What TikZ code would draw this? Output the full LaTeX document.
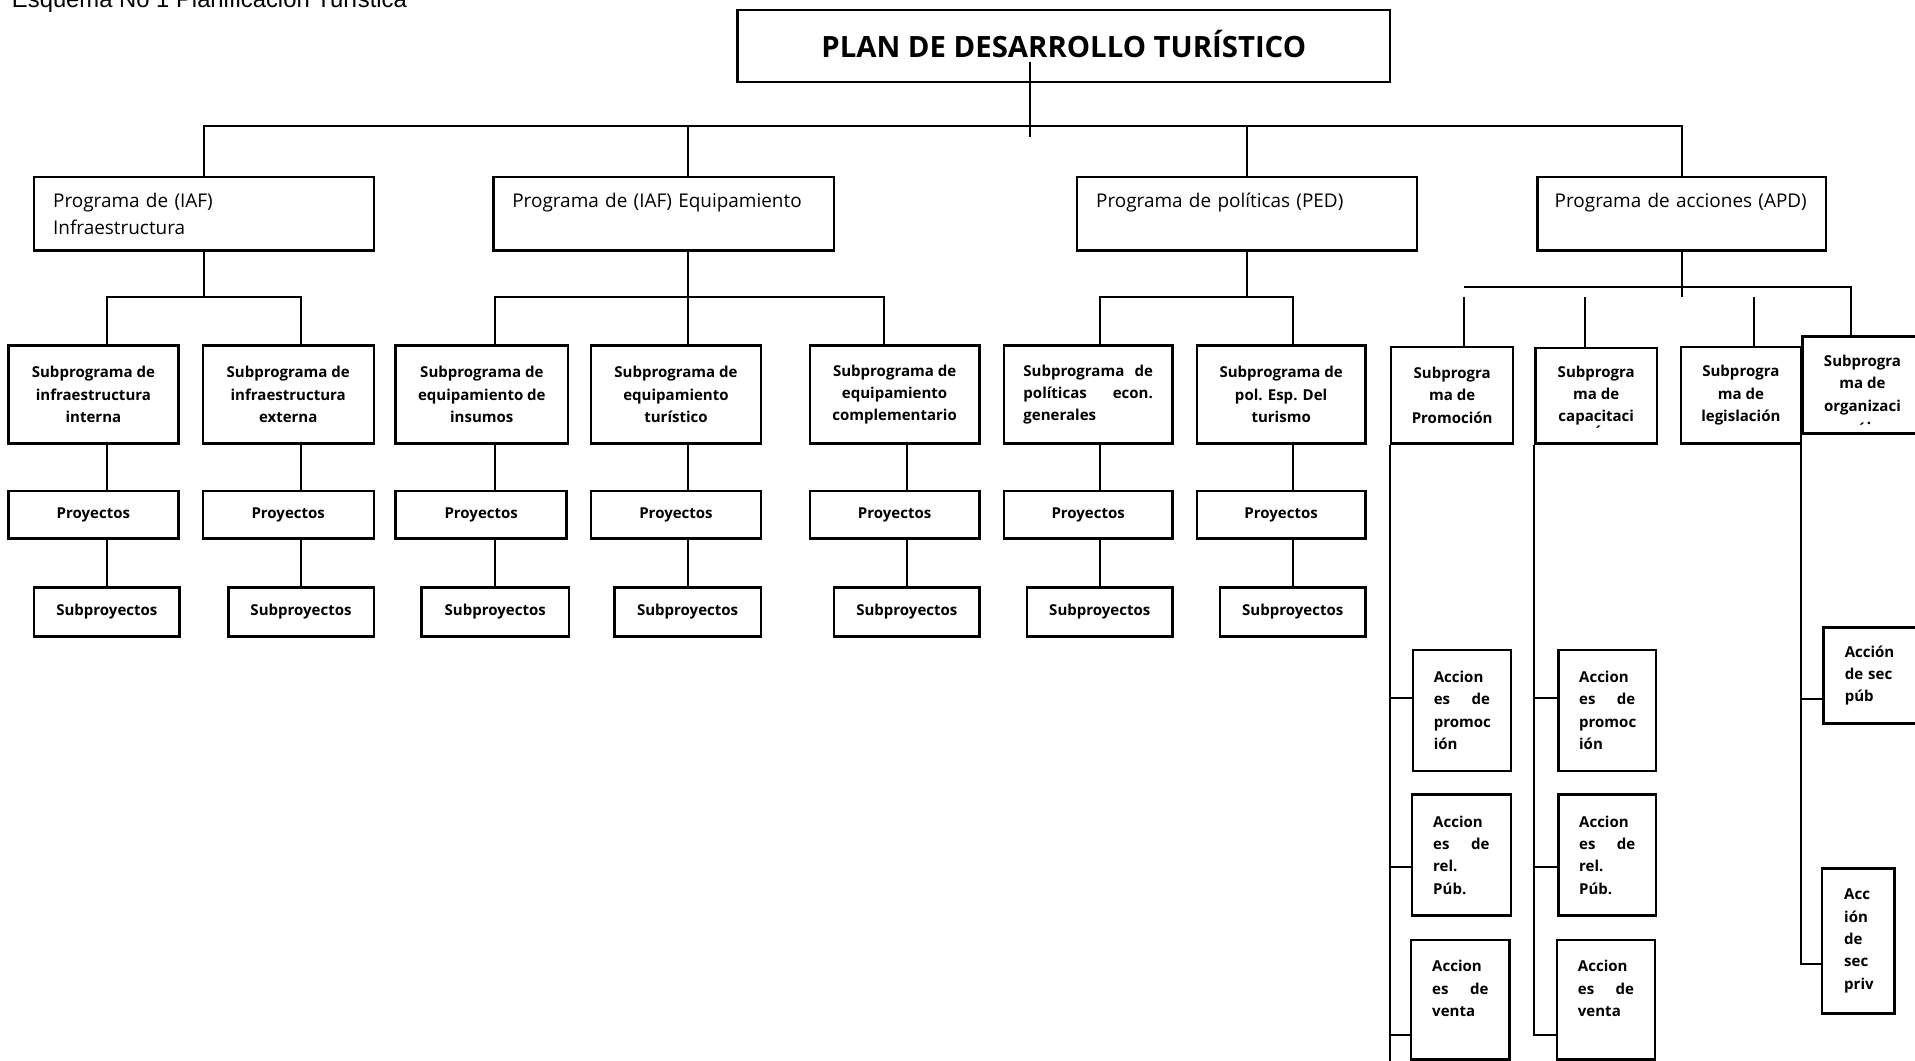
\documentclass[tikz,border=0pt]{standalone}
\usepackage{fontspec}
\setmainfont{Open Sans}
\newfontfamily\esqfont{Liberation Sans}
\usetikzlibrary{calc}

\begin{document}
\begin{tikzpicture}[x=1pt,y=-1pt]
	 \tikzstyle{box}=[draw,line width=2pt,inner sep=0pt]
	 \tikzstyle{prog box}=[box,minimum height=60pt,align=left,font=\fontsize{15.5}{22}\selectfont]
	 \tikzstyle{sub box}=[box,minimum height=80pt,align=center,font=\bfseries\fontsize{12.3}{18.3}\selectfont]
	 \tikzstyle{proj box}=[box,minimum height=39pt,font=\bfseries\fontsize{12.3}{15}\selectfont]
	 \tikzstyle{act box}=[box,align=left,font=\bfseries\fontsize{12.3}{18.3}\selectfont]
	 \tikzstyle{link}=[draw,line width=1.7pt]
	 \useasboundingbox (0,0) rectangle (1568,868);
	 \node[anchor=base west,inner sep=0pt,font=\esqfont\fontsize{19.5}{22}\selectfont] (esq) at (9.6,6.5) {Esquema No 1 Planificación Turística};
	 \node[box,minimum width=534pt,minimum height=59pt,font=\bfseries\fontsize{24}{28}\selectfont] (plan) at (871,37.5) {\raisebox{4pt}{PLAN DE DESARROLLO TURÍSTICO}};
	 % programas
	 \node[prog box,minimum width=278pt,text width=247pt] (p1) at (167,175) {Programa de (IAF)\\Infraestructura};
	 \node[prog box,minimum width=279pt,text width=248pt] (p2) at (543.5,175) {Programa de (IAF) Equipamiento\\\mbox{}};
	 \node[prog box,minimum width=278pt,text width=247pt] (p3) at (1021,175) {Programa de políticas (PED)\\\mbox{}};
	 \node[prog box,minimum width=236pt,text width=208pt] (p4) at (1377,175) {Programa de acciones (APD)\\\mbox{}};
	 % subprogramas
	 \node[sub box,minimum width=139pt] (s1) at (76.5,323) {Subprograma de\\infraestructura\\interna};
	 \node[sub box,minimum width=140pt] (s2) at (236,323) {Subprograma de\\infraestructura\\externa};
	 \node[sub box,minimum width=141pt] (s3) at (394.5,323) {Subprograma de\\equipamiento de\\insumos};
	 \node[sub box,minimum width=139pt] (s4) at (553.5,323) {Subprograma de\\equipamiento\\turístico};
	 \node[sub box,minimum width=139pt] (s5) at (732.5,323) {Subprograma de\\equipamiento\\complementario};
	 \node[sub box,minimum width=138pt,text width=106pt,align=left] (s6) at (891,323) {Subprograma\hfill de\\políticas\hfill econ.\\generales};
	 \node[sub box,minimum width=138pt] (s7) at (1049,323) {Subprograma de\\pol. Esp. Del\\turismo};
	 \node[sub box,minimum width=99.7pt,minimum height=79pt] (sa1) at (1189,323.5) {Subprogra\\ma de\\Promoción};
	 \node[sub box,minimum width=99.3pt,minimum height=78pt] (sa2) at (1307,324) {Subprogra\\ma de\\capa\rlap{\raisebox{-13pt}[0pt][0pt]{´}}citaci};
	 \node[sub box,minimum width=98.4pt,minimum height=79pt] (sa3) at (1425.4,323.5) {Subprogra\\ma de\\legislación};
	 \node[sub box,minimum width=98pt,minimum height=79.2pt] (sa4) at (1525,315.3) {Subprogra\\ma de\\orga\rlap{\raisebox{-19pt}[0pt][0pt]{´}\raisebox{-11pt}[0pt][0pt]{.}}nizaci};
	 % proyectos
	 \node[proj box,minimum width=139pt] (pr1) at (76.5,421.5) {Proyectos};
	 \node[proj box,minimum width=140pt] (pr2) at (236,421.5) {Proyectos};
	 \node[proj box,minimum width=140pt] (pr3) at (394,421.5) {Proyectos};
	 \node[proj box,minimum width=139pt] (pr4) at (553.5,421.5) {Proyectos};
	 \node[proj box,minimum width=139pt] (pr5) at (732.5,421.5) {Proyectos};
	 \node[proj box,minimum width=138pt] (pr6) at (891,421.5) {Proyectos};
	 \node[proj box,minimum width=138pt] (pr7) at (1049,421.5) {Proyectos};
	 \node[proj box,minimum width=119pt,minimum height=40pt] (sp1) at (87.5,501) {Subproyectos};
	 \node[proj box,minimum width=119pt,minimum height=40pt] (sp2) at (246.5,501) {Subproyectos};
	 \node[proj box,minimum width=121pt,minimum height=40pt] (sp3) at (405.5,501) {Subproyectos};
	 \node[proj box,minimum width=120pt,minimum height=40pt] (sp4) at (563,501) {Subproyectos};
	 \node[proj box,minimum width=119pt,minimum height=40pt] (sp5) at (742.5,501) {Subproyectos};
	 \node[proj box,minimum width=119pt,minimum height=40pt] (sp6) at (900.5,501) {Subproyectos};
	 \node[proj box,minimum width=119pt,minimum height=40pt] (sp7) at (1058.5,501) {Subproyectos};
	 % acciones
	 \node[act box,minimum width=80.5pt,minimum height=99pt,text width=46pt] (a11) at (1197,581.7) {Accion\\es\hfill de\\promoc\\ión};
	 \node[act box,minimum width=81pt,minimum height=99pt,text width=46pt] (a12) at (1196.5,700) {Accion\\es\hfill de\\rel.\\Púb.};
	 \node[act box,minimum width=80.6pt,minimum height=98pt,text width=46pt] (a13) at (1195.7,818.5) {Accion\\es\hfill de\\venta\\\mbox{}};
	 \node[act box,minimum width=80pt,minimum height=99pt,text width=46pt] (a21) at (1316,581.7) {Accion\\es\hfill de\\promoc\\ión};
	 \node[act box,minimum width=80pt,minimum height=99pt,text width=46pt] (a22) at (1316,700) {Accion\\es\hfill de\\rel.\\Púb.};
	 \node[act box,minimum width=80pt,minimum height=98pt,text width=46pt] (a23) at (1315,818.5) {Accion\\es\hfill de\\venta\\\mbox{}};
	 \node[act box,minimum width=80pt,minimum height=78.6pt,text width=45pt] (a41) at (1533,553.1) {Acción\\de sec\\púb};
	 \node[act box,minimum width=59.7pt,minimum height=119pt,text width=23pt] (a42) at (1521.5,770.5) {Acc\\ión\\de\\sec\\priv};
	 % connectors
	 \coordinate (bus0) at (0,103);
	 \coordinate (bus1) at (0,243);
	 \coordinate (bus4) at (0,235);
	 \coordinate (stem) at (843,50.5);
	 \coordinate (stemend) at (843,112);
	 \coordinate (k1) at (1198.7,243);
	 \coordinate (k2) at (1298,243);
	 \coordinate (k3) at (1436.3,243);
	 \coordinate (t1) at (0,571.4);
	 \coordinate (t2) at (0,709.8);
	 \coordinate (t3) at (0,847.7);
	 \coordinate (t4) at (0,572.2);
	 \coordinate (t5) at (0,789.5);
	 \coordinate (bottom) at (0,875);
	 \draw[link] (stem) -- (stemend);
	 \draw[link] (p1.north) |- (p4.north |- bus0) -- (p4.north);
	 \draw[link] (sp4.north |- bus0) -- (sp4.north |- p2.north);
	 \draw[link] (p3.north) -- (p3.north |- bus0);
	 \draw[link] (p1.south) -- (p1.south |- bus1);
	 \draw[link] (sp1.north |- s1.north) |- (sp2.north |- bus1) -- (sp2.north |- s2.north);
	 \draw[link] (sp4.north |- p2.south) -- (sp4.north |- s4.north);
	 \draw[link] (sp3.north |- s3.north) |- ($(s5.north |- bus1)+(-8.5,0)$) -- ($(s5.north)+(-8.5,0)$);
	 \draw[link] (p3.south) -- (p3.south |- bus1);
	 \draw[link] (sp6.north |- s6.north) |- (sp7.north |- bus1) -- (sp7.north |- s7.north);
	 \draw[link] (sp1.north |- s1.south) -- (sp1.north |- pr1.north);
	 \draw[link] (sp2.north |- s2.south) -- (sp2.north |- pr2.north);
	 \draw[link] (sp3.north |- s3.south) -- (sp3.north |- pr3.north);
	 \draw[link] (sp4.north |- s4.south) -- (sp4.north |- pr4.north);
	 \draw[link] (sp5.north |- s5.south) -- (sp5.north |- pr5.north);
	 \draw[link] (sp6.north |- s6.south) -- (sp6.north |- pr6.north);
	 \draw[link] (sp7.north |- s7.south) -- (sp7.north |- pr7.north);
	 \draw[link] (sp1.north |- pr1.south) -- (sp1.north);
	 \draw[link] (sp2.north |- pr2.south) -- (sp2.north);
	 \draw[link] (sp3.north |- pr3.south) -- (sp3.north);
	 \draw[link] (sp4.north |- pr4.south) -- (sp4.north);
	 \draw[link] (sp5.north |- pr5.south) -- (sp5.north);
	 \draw[link] (sp6.north |- pr6.south) -- (sp6.north);
	 \draw[link] (sp7.north |- pr7.south) -- (sp7.north);
	 \draw[link] (p4.south) -- (p4.south |- k1);
	 \draw[link] (k1 |- bus4) -| ($(sa4.north)+(-9.6,0)$);
	 \draw[link] (k1) -- (k1 |- sa1.north);
	 \draw[link] (k2) -- (k2 |- sa2.north);
	 \draw[link] (k3) -- (k3 |- sa3.north);
	 \draw[link] (sa1.south west) -- (sa1.south west |- bottom);
	 \draw[link] (sa1.south west |- t1) -- (a11.west |- t1);
	 \draw[link] (sa1.south west |- t2) -- (a12.west |- t2);
	 \draw[link] (sa1.south west |- t3) -- (a13.west |- t3);
	 \draw[link] (sa2.south west) |- (a23.west |- t3);
	 \draw[link] (sa2.south west |- t1) -- (a21.west |- t1);
	 \draw[link] (sa2.south west |- t2) -- (a22.west |- t2);
	 \draw[link] (sa4.south west) |- (a42.west |- t5);
	 \draw[link] (sa4.south west |- t4) -- (a41.west |- t4);
\end{tikzpicture}
\end{document}
